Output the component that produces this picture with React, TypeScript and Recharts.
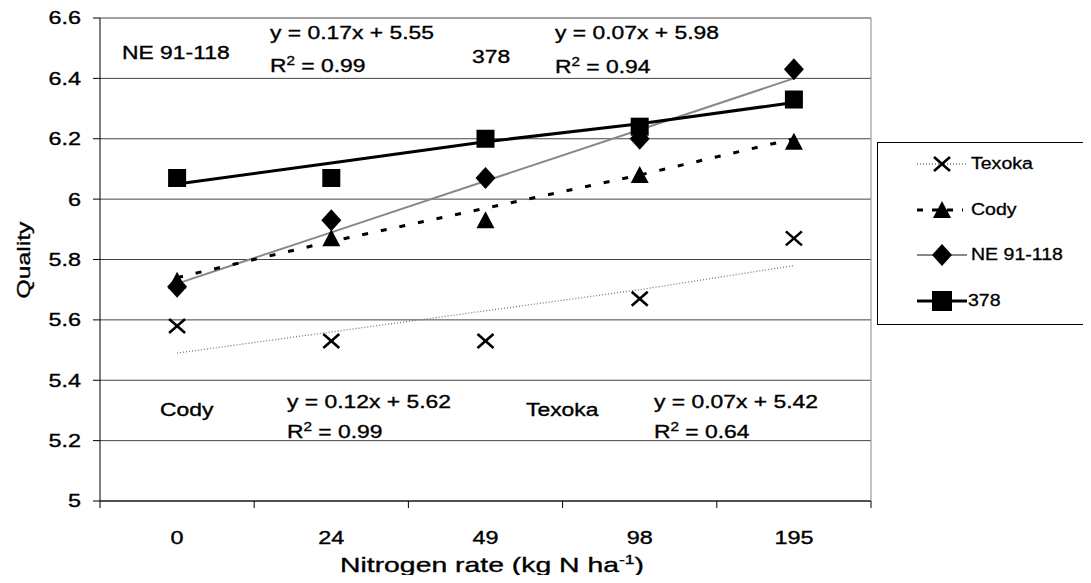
import type { CSSProperties, ReactNode } from "react";
import { CartesianGrid, ComposedChart, Line, XAxis, YAxis } from "recharts";

const rates = ["0", "24", "49", "98", "195"];
const yTicks = [5, 5.2, 5.4, 5.6, 5.8, 6, 6.2, 6.4, 6.6];

// measured points
const texoka = [5.58, 5.53, 5.53, 5.67, 5.87];
const cody = [5.73, 5.87, 5.93, 6.08, 6.19];
const ne91118 = [5.71, 5.93, 6.07, 6.2, 6.43];
const s378 = [6.07, 6.07, 6.2, 6.24, 6.33];

// fitted trend lines as drawn
const texokaTrend = [5.49, 5.56, 5.63, 5.7, 5.78];
const codyTrend = [5.74, 5.86, 5.97, 6.08, 6.2];
const neTrend = [5.72, 5.89, 6.06, 6.23, 6.4];
const trend378 = [6.05, 6.12, 6.19, 6.25, 6.32];

const legendNames = ["Texoka", "Cody", "NE 91-118", "378"];

const data = rates.map((rate, i) => ({
  rate,
  texoka: texoka[i],
  cody: cody[i],
  ne: ne91118[i],
  s378: s378[i],
  texokaTrend: texokaTrend[i],
  codyTrend: codyTrend[i],
  neTrend: neTrend[i],
  trend378: trend378[i]
}));

// tick marks between categories: band edges on a 0..4 scale spanning the plot
const bandEdges = [0, 1, 2, 3, 4, 5].map((k) => (k * (rates.length - 1)) / rates.length);

const FONT = "'Liberation Sans', Arial, sans-serif";
const OFF = 8; // body margin
const HEAVY = "0.35px #000";

const fmt = (v: number) => String(Math.round(v * 10) / 10);

function YTick(props: any) {
  const { x, y, payload } = props;
  return (
    <text
      x={x}
      y={y}
      textAnchor="end"
      dominantBaseline="central"
      fontFamily={FONT}
      fontSize={18}
      fill="#000"
      stroke="#000"
      strokeWidth={0.35}
      transform={`translate(${x} ${y}) scale(1.3 1) translate(${-x} ${-y})`}
    >
      {fmt(payload.value)}
    </text>
  );
}

function XTick(props: any) {
  const { x, y, payload } = props;
  const ty = y + 36;
  return (
    <text
      x={x}
      y={ty}
      textAnchor="middle"
      dominantBaseline="central"
      fontFamily={FONT}
      fontSize={18}
      fill="#000"
      stroke="#000"
      strokeWidth={0.35}
      transform={`translate(${x} ${ty}) scale(1.3 1) translate(${-x} ${-ty})`}
    >
      {payload.value}
    </text>
  );
}

const markSquare = (cx: number, cy: number, s = 18) => (
  <rect x={cx - s / 2} y={cy - s / 2} width={s} height={s} fill="#000" />
);
const markDiamond = (cx: number, cy: number) => (
  <polygon points={`${cx},${cy - 11} ${cx + 10},${cy} ${cx},${cy + 11} ${cx - 10},${cy}`} fill="#000" />
);
const markTriangle = (cx: number, cy: number) => (
  <polygon points={`${cx},${cy - 9} ${cx + 9},${cy + 8} ${cx - 9},${cy + 8}`} fill="#000" />
);
const markCross = (cx: number, cy: number) => (
  <g stroke="#000" strokeWidth={2.6}>
    <line x1={cx - 8} y1={cy - 7} x2={cx + 8} y2={cy + 7} />
    <line x1={cx - 8} y1={cy + 7} x2={cx + 8} y2={cy - 7} />
  </g>
);

const dotWith = (draw: (cx: number, cy: number) => ReactNode) => (props: any) => {
  const { cx, cy, index } = props;
  if (cx == null || cy == null) return <g key={index} />;
  return <g key={index}>{draw(cx, cy)}</g>;
};

const Sup = ({ children }: { children: ReactNode }) => (
  <span style={{ fontSize: 12, position: "relative", top: -7 }}>{children}</span>
);

function Note({ x, y, children, scale = 1.27 }: { x: number; y: number; children: ReactNode; scale?: number }) {
  const style: CSSProperties = {
    position: "absolute",
    left: x - OFF,
    top: y - OFF - 11,
    lineHeight: "22px",
    fontSize: 18,
    fontFamily: FONT,
    whiteSpace: "nowrap",
    transform: `scaleX(${scale})`,
    transformOrigin: "left center",
    color: "#000",
    WebkitTextStroke: HEAVY
  };
  return <div style={style}>{children}</div>;
}

const notes = [
  { x: 122, y: 53, text: "NE 91-118" },
  { x: 270, y: 33, text: "y = 0.17x + 5.55" },
  { x: 270, y: 66, r2: "0.99" },
  { x: 472, y: 57, text: "378" },
  { x: 555, y: 33, text: "y = 0.07x + 5.98" },
  { x: 555, y: 67, r2: "0.94" },
  { x: 160, y: 410, text: "Cody" },
  { x: 287, y: 402, text: "y = 0.12x + 5.62" },
  { x: 287, y: 432, r2: "0.99" },
  { x: 526, y: 410, text: "Texoka" },
  { x: 654, y: 402, text: "y = 0.07x + 5.42" },
  { x: 654, y: 432, r2: "0.64" }
];

function LegendIcon({ i }: { i: number }) {
  const cx = 25;
  const cy = 11;
  return (
    <svg width={52} height={22} style={{ display: "block" }}>
      {i === 0 && (
        <>
          <line x1={0} y1={cy} x2={50} y2={cy} stroke="#777" strokeWidth={1.3} strokeDasharray="1 2" />
          {markCross(cx, cy)}
        </>
      )}
      {i === 1 && (
        <>
          <line x1={0} y1={cy} x2={46} y2={cy} stroke="#000" strokeWidth={3} strokeDasharray="6 9" />
          {markTriangle(cx, cy)}
        </>
      )}
      {i === 2 && (
        <>
          <line x1={0} y1={cy} x2={50} y2={cy} stroke="#888" strokeWidth={2} />
          {markDiamond(cx, cy)}
        </>
      )}
      {i === 3 && (
        <>
          <line x1={0} y1={cy} x2={50} y2={cy} stroke="#000" strokeWidth={3} />
          {markSquare(cx, cy, 20)}
        </>
      )}
    </svg>
  );
}

export default function App() {
  return (
    <div style={{ position: "relative", width: 1075, height: 567, background: "#fff" }}>
      <ComposedChart width={1075} height={567} data={data} margin={{ top: 10, right: 211, bottom: 33, left: 0 }}>
        <CartesianGrid vertical={false} stroke="#444" strokeWidth={1} />
        {/* id 0 sits next to the plot: it only carries the tick marks between categories */}
        <XAxis
          xAxisId={0}
          type="number"
          domain={[0, rates.length - 1]}
          allowDataOverflow
          ticks={bandEdges}
          height={1}
          tickSize={7}
          axisLine={{ stroke: "#000" }}
          tickLine={{ stroke: "#000" }}
          tick={() => <g />}
        />
        <XAxis
          xAxisId="cat"
          dataKey="rate"
          scale="band"
          height={40}
          axisLine={false}
          tickLine={false}
          tickSize={0}
          tickMargin={0}
          tick={<XTick />}
          interval={0}
        />
        <YAxis
          domain={[5, 6.6]}
          ticks={yTicks}
          width={92}
          tickSize={7}
          tickMargin={12}
          axisLine={{ stroke: "#000" }}
          tickLine={{ stroke: "#000" }}
          tick={<YTick />}
          interval={0}
        />
        <YAxis yAxisId="r" orientation="right" domain={[5, 6.6]} width={1} tick={false} tickLine={false} axisLine={{ stroke: "#888" }} />

        <Line xAxisId="cat" dataKey="texokaTrend" stroke="#777" strokeWidth={1.3} strokeDasharray="1 2" dot={false} activeDot={false} isAnimationActive={false} />
        <Line xAxisId="cat" dataKey="neTrend" stroke="#888" strokeWidth={2} dot={false} activeDot={false} isAnimationActive={false} />
        <Line xAxisId="cat" dataKey="codyTrend" stroke="#000" strokeWidth={3} strokeDasharray="6 13" dot={false} activeDot={false} isAnimationActive={false} />
        <Line xAxisId="cat" dataKey="trend378" stroke="#000" strokeWidth={3} dot={false} activeDot={false} isAnimationActive={false} />

        <Line xAxisId="cat" dataKey="texoka" stroke="none" dot={dotWith(markCross)} activeDot={false} isAnimationActive={false} />
        <Line xAxisId="cat" dataKey="cody" stroke="none" dot={dotWith(markTriangle)} activeDot={false} isAnimationActive={false} />
        <Line xAxisId="cat" dataKey="ne" stroke="none" dot={dotWith(markDiamond)} activeDot={false} isAnimationActive={false} />
        <Line xAxisId="cat" dataKey="s378" stroke="none" dot={dotWith((cx, cy) => markSquare(cx, cy))} activeDot={false} isAnimationActive={false} />
      </ComposedChart>

      {notes.map((n, i) => (
        <Note key={i} x={n.x} y={n.y}>
          {n.text ?? (
            <>
              R<Sup>2</Sup> = {n.r2}
            </>
          )}
        </Note>
      ))}

      {/* y axis title */}
      <div
        style={{
          position: "absolute",
          left: 24 - OFF,
          top: 260 - OFF,
          fontFamily: FONT,
          fontSize: 19,
          whiteSpace: "nowrap",
          WebkitTextStroke: HEAVY,
          transform: "translate(-50%, -50%) rotate(-90deg) scaleX(1.3)"
        }}
      >
        Quality
      </div>

      {/* x axis title */}
      <div
        style={{
          position: "absolute",
          left: 492 - OFF,
          top: 565 - OFF,
          fontFamily: FONT,
          fontSize: 21,
          whiteSpace: "nowrap",
          WebkitTextStroke: HEAVY,
          transform: "translate(-50%, -50%) scaleX(1.35)"
        }}
      >
        Nitrogen rate (kg N ha<span style={{ fontSize: 13, position: "relative", top: -8 }}>-1</span>)
      </div>

      {/* legend */}
      <div
        style={{
          position: "absolute",
          left: 877 - OFF,
          top: 142 - OFF,
          width: 211,
          height: 183,
          border: "1.5px solid #000",
          boxSizing: "border-box"
        }}
      >
        {legendNames.map((name, i) => (
          <div
            key={name}
            style={{ position: "absolute", left: 39, top: 10 + i * 45.5, display: "flex", alignItems: "center", height: 22 }}
          >
            <LegendIcon i={i} />
            <span
              style={{
                fontFamily: FONT,
                fontSize: 16,
                whiteSpace: "nowrap",
                WebkitTextStroke: "0.3px #000",
                transform: "scaleX(1.22)",
                transformOrigin: "left center",
                marginLeft: i === 3 ? -1 : 2
              }}
            >
              {name}
            </span>
          </div>
        ))}
      </div>
    </div>
  );
}
